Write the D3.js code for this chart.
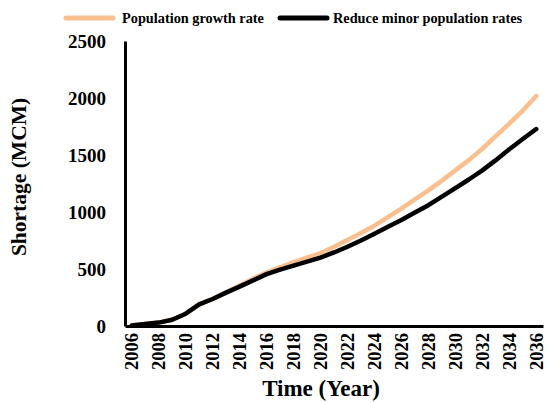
<!DOCTYPE html>
<html>
<head>
<meta charset="utf-8">
<script src="https://cdn.jsdelivr.net/npm/d3@7"></script>
<style>
  body { margin: 0; background: #fff; }
  text { font-family: "Liberation Serif", "Times New Roman", serif; font-weight: bold; }
</style>
</head>
<body>
<svg id="chart" width="550" height="402"></svg>
<script>
// years on the x axis
var years = d3.range(2006, 2037);
// shortage (MCM)
var growthRate = [5, 18, 30, 55, 108, 190, 237, 298, 355, 415, 470, 515, 560, 600, 640,
  695, 755, 815, 880, 955, 1030, 1110, 1190, 1275, 1365, 1455, 1555, 1665, 1775, 1890, 2018];
var reduceMinor = [5, 18, 30, 55, 108, 190, 237, 293, 345, 400, 455, 495, 530, 565, 600,
  645, 695, 750, 810, 870, 930, 995, 1060, 1135, 1210, 1285, 1365, 1455, 1550, 1640, 1728];
var yTicks = [0, 500, 1000, 1500, 2000, 2500];
var seriesNames = ["Population growth rate", "Reduce minor population rates"];
var seriesColors = ["#F9BF8F", "#000000"];

var svg = d3.select("#chart"),
  margin = {top: 41, right: 7, bottom: 76, left: 125},
  width = +svg.attr("width") - margin.left - margin.right,
  height = +svg.attr("height") - margin.top - margin.bottom;

var x = d3.scaleBand().domain(years).range([0, width]);
var y = d3.scaleLinear().domain([0, 2500]).range([height, 0]);

var g = svg.append("g")
  .attr("transform", "translate(" + margin.left + "," + margin.top + ")");

// lines
var line = d3.line()
  .x(function(d, i) { return x(years[i]) + x.bandwidth() / 2; })
  .y(function(d) { return y(d); });

[growthRate, reduceMinor].forEach(function(s, i) {
  g.append("path")
    .datum(s)
    .attr("fill", "none")
    .attr("stroke", seriesColors[i])
    .attr("stroke-width", 4.5)
    .attr("stroke-linejoin", "round")
    .attr("stroke-linecap", "round")
    .attr("d", line);
});

// y axis
var yAxis = g.append("g")
  .call(d3.axisLeft(y).tickValues(yTicks).tickFormat(d3.format("d")).tickSize(0).tickPadding(19));
yAxis.select(".domain").attr("stroke", "#000").attr("stroke-width", 3);
yAxis.selectAll("text").attr("font-size", 19).attr("fill", "#000")
  .attr("font-family", "Liberation Serif").attr("font-weight", "bold");

// x axis
var xAxis = g.append("g")
  .attr("transform", "translate(0," + height + ")")
  .call(d3.axisBottom(x).tickSize(0));
xAxis.select(".domain").attr("stroke", "#000").attr("stroke-width", 3);
xAxis.selectAll("text")
  .text(function(d) { return d % 2 === 0 ? d : ""; })
  .attr("font-size", 18.5).attr("fill", "#000")
  .attr("font-family", "Liberation Serif").attr("font-weight", "bold")
  .attr("transform", "rotate(-90)")
  .attr("text-anchor", "end")
  .attr("x", -7)
  .attr("y", 0)
  .attr("dy", "0.35em");

// axis titles
svg.append("text")
  .attr("transform", "translate(26,177) rotate(-90)")
  .attr("text-anchor", "middle")
  .attr("font-size", 21.5)
  .text("Shortage (MCM)");

svg.append("text")
  .attr("x", 321)
  .attr("y", 396)
  .attr("text-anchor", "middle")
  .attr("font-size", 23)
  .text("Time (Year)");

// legend
var legendX = [66, 280];
seriesNames.forEach(function(name, i) {
  var lg = svg.append("g").attr("transform", "translate(" + legendX[i] + ",18)");
  lg.append("line")
    .attr("x1", 0).attr("x2", 47)
    .attr("stroke", seriesColors[i])
    .attr("stroke-width", 5)
    .attr("stroke-linecap", "round");
  lg.append("text")
    .attr("x", i === 0 ? 56 : 53)
    .attr("dy", "0.35em")
    .attr("font-size", 14.3)
    .text(name);
});
</script>
</body>
</html>
